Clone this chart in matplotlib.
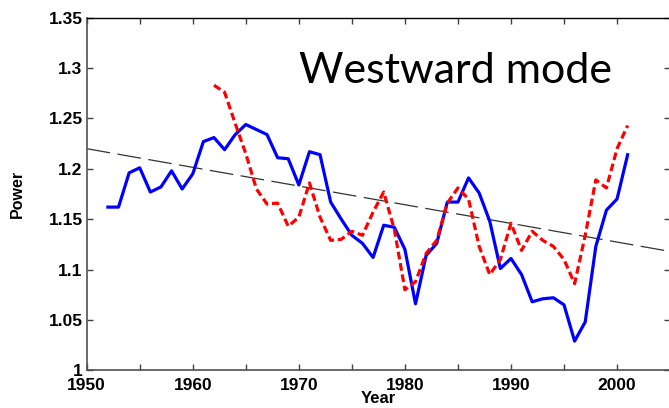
import numpy as np
import matplotlib
matplotlib.use("Agg")
from matplotlib import pyplot as plt
from matplotlib.ticker import MultipleLocator, FixedLocator

# blue solid series (1952-2001)
blue_years = list(range(1952, 2002))
blue_power = [1.162, 1.162, 1.196, 1.201, 1.177, 1.182, 1.198, 1.180, 1.195, 1.227,
              1.231, 1.219, 1.234, 1.244, 1.239, 1.234, 1.211, 1.210, 1.184, 1.217,
              1.214, 1.167, 1.150, 1.134, 1.126, 1.112, 1.144, 1.142, 1.120, 1.066,
              1.114, 1.126, 1.167, 1.167, 1.191, 1.176, 1.148, 1.101, 1.111, 1.095,
              1.068, 1.071, 1.072, 1.065, 1.029, 1.048, 1.123, 1.159, 1.170, 1.214]

# red dashed series (1962-2001)
red_years = list(range(1962, 2002))
red_power = [1.283, 1.276, 1.245, 1.215, 1.180, 1.165, 1.166, 1.143, 1.152, 1.186,
             1.152, 1.129, 1.130, 1.138, 1.134, 1.157, 1.177, 1.140, 1.080, 1.088,
             1.116, 1.129, 1.166, 1.181, 1.170, 1.123, 1.095, 1.110, 1.146, 1.119,
             1.138, 1.129, 1.123, 1.110, 1.086, 1.134, 1.189, 1.181, 1.220, 1.243]

# linear trend end points
trend_years = [1950, 2005]
trend_power = [1.220, 1.118]

x_labels = ['1950', '1960', '1970', '1980', '1990', '2000']
y_ticks = [1.0, 1.05, 1.1, 1.15, 1.2, 1.25, 1.3, 1.35]
y_labels = ['1', '1.05', '1.1', '1.15', '1.2', '1.25', '1.3', '1.35']

fig = plt.figure(figsize=(6.69, 4.08), dpi=100)
ax = fig.add_axes([0.1296, 0.0924, 0.872, 0.8642])

ax.plot(trend_years, trend_power, color='#333333', lw=0.9, dashes=(19, 6))
ax.plot(blue_years, blue_power, color='#0000ff', lw=2.3)
ax.plot(red_years, red_power, color='#ff0000', lw=2.3, dashes=(2.4, 1.2))

ax.set_xlim(1950, 2005)
ax.set_ylim(1.0, 1.35)
ax.xaxis.set_major_locator(FixedLocator(range(1950, 2001, 10)))
ax.set_xticklabels(x_labels)
ax.xaxis.set_minor_locator(MultipleLocator(5))
ax.set_yticks(y_ticks)
ax.set_yticklabels(y_labels)

tick_font = dict(family='Liberation Sans', weight='bold', size=12.5)
for lab in ax.get_xticklabels() + ax.get_yticklabels():
    lab.set_fontproperties(matplotlib.font_manager.FontProperties(**tick_font))

ax.tick_params(which='both', direction='in', length=4, width=1, color='#404040',
               top=True, right=True)
ax.tick_params(axis='y', which='both', pad=3)
ax.tick_params(axis='x', which='both', pad=5.5)
for sp in ax.spines.values():
    sp.set_color('#505050')
    sp.set_linewidth(1.2)
ax.spines['top'].set_color('#000000')
ax.spines['top'].set_linewidth(1)

ax.set_xlabel('Year', fontdict=dict(family='Liberation Sans', weight='bold', size=12),
              labelpad=-1.5)
ax.set_ylabel('Power', fontdict=dict(family='Liberation Sans', weight='bold', size=11.5),
              labelpad=17)

ax.text(0.364, 0.85, 'Westward mode', transform=ax.transAxes, fontsize=31,
        family='Lato', va='center', ha='left', color='black')

fig.savefig('out.png', dpi=100)
